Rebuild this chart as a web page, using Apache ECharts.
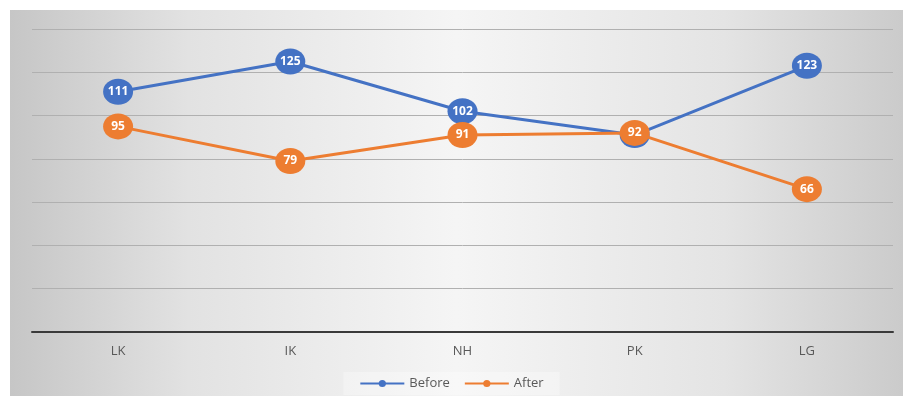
<!DOCTYPE html>
<html>
<head>
<meta charset="utf-8">
<script src="https://cdn.jsdelivr.net/npm/echarts@6/dist/echarts.min.js"></script>
<style>
  html, body { margin: 0; padding: 0; background: #fff; }
  #lineChart { width: 903px; height: 396px; }
</style>
</head>
<body>
<div id="lineChart"></div>
<script>
  // data
  var categories = ['LK', 'IK', 'NH', 'PK', 'LG'];
  var beforeValues = [111, 125, 102, 91, 123];
  var afterValues = [95, 79, 91, 92, 66];

  var chart = echarts.init(document.getElementById('lineChart'));

  function lineSeries(name, color, data, z) {
    return {
      name: name,
      type: 'line',
      data: data,
      z: z,
      symbol: 'circle',
      symbolSize: [30, 26],
      lineStyle: { color: color, width: 3 },
      itemStyle: { color: color },
      label: {
        show: true,
        position: 'inside',
        color: '#fff',
        fontWeight: 'bold',
        fontSize: 12,
        fontFamily: 'Open Sans'
      }
    };
  }

  chart.setOption({
    animation: false,
    backgroundColor: '#fff',
    graphic: [{
      type: 'rect',
      z: -10,
      shape: { x: 10, y: 10, width: 893, height: 386 },
      style: {
        fill: new echarts.graphic.LinearGradient(0, 0, 1, 0, [
          { offset: 0, color: '#c6c6c6' },
          { offset: 0.2, color: '#e2e2e2' },
          { offset: 0.5, color: '#f5f5f5' },
          { offset: 0.8, color: '#e4e4e4' },
          { offset: 1, color: '#cbcbcb' }
        ])
      }
    }],
    grid: { left: 32, right: 10, top: 29, bottom: 64 },
    xAxis: {
      type: 'category',
      data: categories,
      axisTick: { show: false },
      axisLine: { lineStyle: { color: '#3a3a3a', width: 2 } },
      axisLabel: { color: '#595959', fontSize: 13, margin: 13, fontFamily: 'Open Sans' }
    },
    yAxis: {
      type: 'value',
      min: 0,
      max: 140,
      interval: 20,
      axisLabel: { show: false },
      axisLine: { show: false },
      axisTick: { show: false },
      splitLine: { lineStyle: { color: '#b0b0b0', width: 1 } }
    },
    legend: {
      bottom: 1,
      left: 'center',
      itemWidth: 44,
      itemHeight: 9,
      itemGap: 14,
      padding: [5, 16],
      backgroundColor: 'rgba(255,255,255,0.3)',
      textStyle: { color: '#595959', fontSize: 13, fontFamily: 'Open Sans' },
      data: ['Before', 'After']
    },
    series: [
      lineSeries('Before', '#4472c4', beforeValues, 2),
      lineSeries('After', '#ed7d31', afterValues, 3)
    ]
  });
</script>
</body>
</html>
